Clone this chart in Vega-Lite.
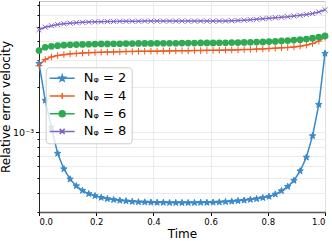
{
  "$schema": "https://vega.github.io/schema/vega-lite/v6.json",
  "autosize": {"type": "none"},
  "padding": {"left": 39, "top": 1, "right": 7, "bottom": 29},
  "width": 286,
  "height": 211,
  "config": {
    "font": "DejaVu Sans",
    "view": {"stroke": "#c8c8c8", "strokeWidth": 1},
    "axis": {"gridColor": "#e6e6e6", "gridWidth": 0.8, "labelColor": "#000", "titleColor": "#000", "tickColor": "#000", "labelFont": "DejaVu Sans", "titleFont": "DejaVu Sans", "titleFontWeight": "normal"}
  },
  "data": {"values": [
    {"t":0,"N":2,"v":2.86e-3},{"t":0.0217,"N":2,"v":1.63e-3},{"t":0.0435,"N":2,"v":1.08e-3},{"t":0.0652,"N":2,"v":7.27e-4},{"t":0.087,"N":2,"v":5.74e-4},{"t":0.1087,"N":2,"v":4.91e-4},{"t":0.1304,"N":2,"v":4.43e-4},{"t":0.1522,"N":2,"v":4.13e-4},{"t":0.1739,"N":2,"v":3.93e-4},{"t":0.1957,"N":2,"v":3.81e-4},{"t":0.2174,"N":2,"v":3.71e-4},{"t":0.2391,"N":2,"v":3.64e-4},{"t":0.2609,"N":2,"v":3.59e-4},{"t":0.2826,"N":2,"v":3.55e-4},{"t":0.3043,"N":2,"v":3.52e-4},{"t":0.3261,"N":2,"v":3.49e-4},{"t":0.3478,"N":2,"v":3.47e-4},{"t":0.3696,"N":2,"v":3.46e-4},{"t":0.3913,"N":2,"v":3.45e-4},{"t":0.413,"N":2,"v":3.44e-4},{"t":0.4348,"N":2,"v":3.44e-4},{"t":0.4565,"N":2,"v":3.43e-4},{"t":0.4783,"N":2,"v":3.43e-4},{"t":0.5,"N":2,"v":3.43e-4},{"t":0.5217,"N":2,"v":3.43e-4},{"t":0.5435,"N":2,"v":3.43e-4},{"t":0.5652,"N":2,"v":3.44e-4},{"t":0.587,"N":2,"v":3.44e-4},{"t":0.6087,"N":2,"v":3.45e-4},{"t":0.6304,"N":2,"v":3.46e-4},{"t":0.6522,"N":2,"v":3.48e-4},{"t":0.6739,"N":2,"v":3.5e-4},{"t":0.6957,"N":2,"v":3.53e-4},{"t":0.7174,"N":2,"v":3.56e-4},{"t":0.7391,"N":2,"v":3.6e-4},{"t":0.7609,"N":2,"v":3.64e-4},{"t":0.7826,"N":2,"v":3.7e-4},{"t":0.8043,"N":2,"v":3.77e-4},{"t":0.8261,"N":2,"v":3.9e-4},{"t":0.8478,"N":2,"v":4.11e-4},{"t":0.8696,"N":2,"v":4.39e-4},{"t":0.8913,"N":2,"v":4.81e-4},{"t":0.913,"N":2,"v":5.56e-4},{"t":0.9348,"N":2,"v":6.85e-4},{"t":0.9565,"N":2,"v":9.5e-4},{"t":0.9783,"N":2,"v":1.53e-3},{"t":1,"N":2,"v":3.33e-3},
    {"t":0,"N":4,"v":2.77e-3},{"t":0.0217,"N":4,"v":3.04e-3},{"t":0.0435,"N":4,"v":3.16e-3},{"t":0.0652,"N":4,"v":3.23e-3},{"t":0.087,"N":4,"v":3.27e-3},{"t":0.1087,"N":4,"v":3.31e-3},{"t":0.1304,"N":4,"v":3.33e-3},{"t":0.1522,"N":4,"v":3.35e-3},{"t":0.1739,"N":4,"v":3.37e-3},{"t":0.1957,"N":4,"v":3.38e-3},{"t":0.2174,"N":4,"v":3.39e-3},{"t":0.2391,"N":4,"v":3.4e-3},{"t":0.2609,"N":4,"v":3.41e-3},{"t":0.2826,"N":4,"v":3.42e-3},{"t":0.3043,"N":4,"v":3.43e-3},{"t":0.3261,"N":4,"v":3.43e-3},{"t":0.3478,"N":4,"v":3.44e-3},{"t":0.3696,"N":4,"v":3.44e-3},{"t":0.3913,"N":4,"v":3.45e-3},{"t":0.413,"N":4,"v":3.45e-3},{"t":0.4348,"N":4,"v":3.46e-3},{"t":0.4565,"N":4,"v":3.46e-3},{"t":0.4783,"N":4,"v":3.47e-3},{"t":0.5,"N":4,"v":3.47e-3},{"t":0.5217,"N":4,"v":3.47e-3},{"t":0.5435,"N":4,"v":3.48e-3},{"t":0.5652,"N":4,"v":3.48e-3},{"t":0.587,"N":4,"v":3.49e-3},{"t":0.6087,"N":4,"v":3.49e-3},{"t":0.6304,"N":4,"v":3.5e-3},{"t":0.6522,"N":4,"v":3.51e-3},{"t":0.6739,"N":4,"v":3.51e-3},{"t":0.6957,"N":4,"v":3.52e-3},{"t":0.7174,"N":4,"v":3.53e-3},{"t":0.7391,"N":4,"v":3.54e-3},{"t":0.7609,"N":4,"v":3.56e-3},{"t":0.7826,"N":4,"v":3.57e-3},{"t":0.8043,"N":4,"v":3.59e-3},{"t":0.8261,"N":4,"v":3.61e-3},{"t":0.8478,"N":4,"v":3.63e-3},{"t":0.8696,"N":4,"v":3.65e-3},{"t":0.8913,"N":4,"v":3.68e-3},{"t":0.913,"N":4,"v":3.72e-3},{"t":0.9348,"N":4,"v":3.78e-3},{"t":0.9565,"N":4,"v":3.87e-3},{"t":0.9783,"N":4,"v":4.02e-3},{"t":1,"N":4,"v":4.27e-3},
    {"t":0,"N":6,"v":3.48e-3},{"t":0.0217,"N":6,"v":3.66e-3},{"t":0.0435,"N":6,"v":3.71e-3},{"t":0.0652,"N":6,"v":3.75e-3},{"t":0.087,"N":6,"v":3.78e-3},{"t":0.1087,"N":6,"v":3.8e-3},{"t":0.1304,"N":6,"v":3.81e-3},{"t":0.1522,"N":6,"v":3.82e-3},{"t":0.1739,"N":6,"v":3.83e-3},{"t":0.1957,"N":6,"v":3.84e-3},{"t":0.2174,"N":6,"v":3.85e-3},{"t":0.2391,"N":6,"v":3.85e-3},{"t":0.2609,"N":6,"v":3.86e-3},{"t":0.2826,"N":6,"v":3.86e-3},{"t":0.3043,"N":6,"v":3.87e-3},{"t":0.3261,"N":6,"v":3.87e-3},{"t":0.3478,"N":6,"v":3.88e-3},{"t":0.3696,"N":6,"v":3.88e-3},{"t":0.3913,"N":6,"v":3.88e-3},{"t":0.413,"N":6,"v":3.89e-3},{"t":0.4348,"N":6,"v":3.89e-3},{"t":0.4565,"N":6,"v":3.89e-3},{"t":0.4783,"N":6,"v":3.89e-3},{"t":0.5,"N":6,"v":3.9e-3},{"t":0.5217,"N":6,"v":3.9e-3},{"t":0.5435,"N":6,"v":3.9e-3},{"t":0.5652,"N":6,"v":3.91e-3},{"t":0.587,"N":6,"v":3.91e-3},{"t":0.6087,"N":6,"v":3.91e-3},{"t":0.6304,"N":6,"v":3.92e-3},{"t":0.6522,"N":6,"v":3.92e-3},{"t":0.6739,"N":6,"v":3.93e-3},{"t":0.6957,"N":6,"v":3.93e-3},{"t":0.7174,"N":6,"v":3.94e-3},{"t":0.7391,"N":6,"v":3.95e-3},{"t":0.7609,"N":6,"v":3.96e-3},{"t":0.7826,"N":6,"v":3.97e-3},{"t":0.8043,"N":6,"v":3.99e-3},{"t":0.8261,"N":6,"v":4e-3},{"t":0.8478,"N":6,"v":4.03e-3},{"t":0.8696,"N":6,"v":4.05e-3},{"t":0.8913,"N":6,"v":4.08e-3},{"t":0.913,"N":6,"v":4.11e-3},{"t":0.9348,"N":6,"v":4.15e-3},{"t":0.9565,"N":6,"v":4.2e-3},{"t":0.9783,"N":6,"v":4.27e-3},{"t":1,"N":6,"v":4.35e-3},
    {"t":0,"N":8,"v":4.78e-3},{"t":0.0217,"N":8,"v":4.97e-3},{"t":0.0435,"N":8,"v":5.08e-3},{"t":0.0652,"N":8,"v":5.17e-3},{"t":0.087,"N":8,"v":5.24e-3},{"t":0.1087,"N":8,"v":5.28e-3},{"t":0.1304,"N":8,"v":5.32e-3},{"t":0.1522,"N":8,"v":5.35e-3},{"t":0.1739,"N":8,"v":5.37e-3},{"t":0.1957,"N":8,"v":5.39e-3},{"t":0.2174,"N":8,"v":5.4e-3},{"t":0.2391,"N":8,"v":5.41e-3},{"t":0.2609,"N":8,"v":5.42e-3},{"t":0.2826,"N":8,"v":5.43e-3},{"t":0.3043,"N":8,"v":5.43e-3},{"t":0.3261,"N":8,"v":5.44e-3},{"t":0.3478,"N":8,"v":5.44e-3},{"t":0.3696,"N":8,"v":5.45e-3},{"t":0.3913,"N":8,"v":5.45e-3},{"t":0.413,"N":8,"v":5.45e-3},{"t":0.4348,"N":8,"v":5.45e-3},{"t":0.4565,"N":8,"v":5.45e-3},{"t":0.4783,"N":8,"v":5.45e-3},{"t":0.5,"N":8,"v":5.45e-3},{"t":0.5217,"N":8,"v":5.45e-3},{"t":0.5435,"N":8,"v":5.45e-3},{"t":0.5652,"N":8,"v":5.45e-3},{"t":0.587,"N":8,"v":5.45e-3},{"t":0.6087,"N":8,"v":5.45e-3},{"t":0.6304,"N":8,"v":5.46e-3},{"t":0.6522,"N":8,"v":5.46e-3},{"t":0.6739,"N":8,"v":5.48e-3},{"t":0.6957,"N":8,"v":5.5e-3},{"t":0.7174,"N":8,"v":5.53e-3},{"t":0.7391,"N":8,"v":5.56e-3},{"t":0.7609,"N":8,"v":5.6e-3},{"t":0.7826,"N":8,"v":5.65e-3},{"t":0.8043,"N":8,"v":5.69e-3},{"t":0.8261,"N":8,"v":5.74e-3},{"t":0.8478,"N":8,"v":5.78e-3},{"t":0.8696,"N":8,"v":5.82e-3},{"t":0.8913,"N":8,"v":5.89e-3},{"t":0.913,"N":8,"v":5.95e-3},{"t":0.9348,"N":8,"v":6.02e-3},{"t":0.9565,"N":8,"v":6.12e-3},{"t":0.9783,"N":8,"v":6.26e-3},{"t":1,"N":8,"v":6.48e-3}
  ]},
  "encoding": {
    "x": {"field": "t", "type": "quantitative", "scale": {"domain": [0, 1], "nice": false},
      "axis": {"values": [0, 0.2, 0.4, 0.6, 0.8, 1.0], "format": ".1f", "labelFontSize": 8.5, "title": "Time", "titleFontSize": 12, "titlePadding": 2, "tickSize": 3.5, "labelPadding": 2, "domainColor": "#555", "domainWidth": 1.5, "grid": true}},
    "y": {"field": "v", "type": "quantitative", "scale": {"type": "log", "domain": [2.98e-4, 7.4e-3], "nice": false},
      "axis": {"values": [3e-4, 4e-4, 5e-4, 6e-4, 7e-4, 8e-4, 9e-4, 1e-3, 2e-3, 3e-3, 4e-3, 5e-3, 6e-3, 7e-3],
        "labelExpr": "abs(datum.value - 0.001) < 1e-9 ? '10⁻³' : ''", "labelFontSize": 9.5,
        "tickSize": {"condition": {"test": "abs(datum.value - 0.001) < 1e-9", "value": 3.5}, "value": 2},
        "title": "Relative error velocity", "titleFontSize": 12, "titleX": -27, "titleBaseline": "bottom", "labelPadding": 2, "domainColor": "#222", "domainWidth": 1, "grid": true}}
  },
  "layer": [
    {"mark": {"type": "line", "strokeWidth": 1.5},
     "encoding": {
       "color": {"field": "N", "type": "nominal",
         "scale": {"domain": [2, 4, 6, 8], "range": ["#3a89c9", "#f4591e", "#2faa52", "#8064c8"]},
         "legend": {"orient": "none", "legendX": 6.7, "legendY": 66.3, "title": null,
           "labelExpr": "'Nᵩ = ' + datum.label", "labelFontSize": 13, "labelFont": "DejaVu Sans", "labelColor": "#000",
           "symbolSize": 100, "symbolOffset": 5.5, "labelOffset": 15, "rowPadding": 3.7,
           "fillColor": "rgba(255,255,255,0.8)", "strokeColor": "#cccccc", "cornerRadius": 3, "padding": 4.5,
           "encode": {"symbols": {"update": {
             "shape": {"signal": "datum.value == 2 ? 'M-2.5,0L2.5,0M0,-0.64L0.15,-0.207L0.609,-0.198L0.243,0.079L0.376,0.518L0,0.256L-0.376,0.518L-0.243,0.079L-0.609,-0.198L-0.15,-0.207Z' : datum.value == 4 ? 'M-2.5,0L2.5,0M0,-0.6L0,0.6' : datum.value == 6 ? 'M-2.5,0L2.5,0M0.6,0A0.6,0.6,0,1,1,-0.6,0A0.6,0.6,0,1,1,0.6,0Z' : 'M-2.5,0L2.5,0M-0.5,-0.5L0.5,0.5M-0.5,0.5L0.5,-0.5'"},
             "stroke": {"scale": "color", "field": "value"},
             "fill": {"scale": "color", "field": "value"},
             "fillOpacity": {"value": 1},
             "strokeWidth": {"value": 1.5}
           }}}
         }}
     }},
    {"transform": [{"filter": "datum.N == 2"}],
     "mark": {"type": "point", "shape": "M0,-1L0.235,-0.324L0.951,-0.309L0.380,0.124L0.588,0.809L0,0.4L-0.588,0.809L-0.380,0.124L-0.951,-0.309L-0.235,-0.324Z", "size": 45, "filled": true, "color": "#3a89c9", "stroke": "#3a89c9", "strokeWidth": 1, "opacity": 1}},
    {"transform": [{"filter": "datum.N == 4"}],
     "mark": {"type": "point", "shape": "M-1,0L1,0M0,-1L0,1", "size": 45, "filled": false, "color": "#f4591e", "strokeWidth": 1, "opacity": 1}},
    {"transform": [{"filter": "datum.N == 6"}],
     "mark": {"type": "point", "shape": "circle", "size": 45, "filled": true, "color": "#2faa52", "opacity": 1}},
    {"transform": [{"filter": "datum.N == 8"}],
     "mark": {"type": "point", "shape": "M-0.75,-0.75L0.75,0.75M-0.75,0.75L0.75,-0.75", "size": 45, "filled": false, "color": "#8064c8", "strokeWidth": 1, "opacity": 1}}
  ]
}
